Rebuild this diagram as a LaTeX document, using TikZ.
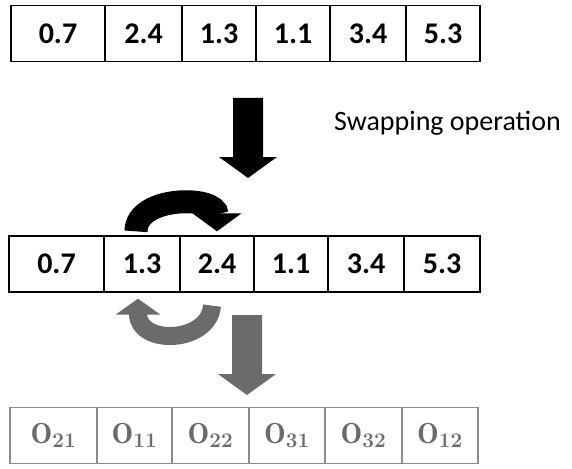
\documentclass[tikz,border=0pt]{standalone}
\usepackage{fontspec}
\newfontfamily\numfont{Carlito}
\usetikzlibrary{arrows.meta}

\tikzset{
  cell/.style={draw, line width=1.3pt, minimum height=56pt, inner sep=0pt,
    font=\numfont\bfseries\fontsize{30}{31}\selectfont},
  ocell/.style={cell, draw=black!45, text=black!58, font=\fontsize{29}{31}\selectfont\boldmath},
  swaparrow/.style={line width=23pt, -{Triangle[width=48pt,length=18pt]}},
  backarrow/.style={line width=18pt, black!58, -{Triangle[width=44pt,length=16pt]}},
  downarrow/.pic={
    \fill (-15,0) -- (15,0) -- (15,59) -- (29,59) -- (0,80) -- (-29,59) -- (-15,59) -- cycle;
  }
}

\begin{document}
\begin{tikzpicture}[x=1pt, y=-1pt]
  \useasboundingbox (0,0) rectangle (572,468);

  % chromosome before and after the swap
  \foreach \v/\l/\r [count=\i] in {0.7/11/105, 2.4/105/182, 1.3/182/256, 1.1/256/330, 3.4/330/406, 5.3/406/480}
    \node[cell, minimum width=\r-\l] (t\i) at ({(\l+\r)/2}, 33.5) {\v};
  \foreach \v/\l/\r [count=\i] in {0.7/9/104, 1.3/104/180, 2.4/180/254, 1.1/254/328, 3.4/328/404, 5.3/404/480}
    \node[cell, minimum width=\r-\l] (m\i) at ({(\l+\r)/2}, 264) {\v};
  \foreach \v/\l/\r [count=\i] in {21/10/97, 11/97/172, 22/172/249, 31/249/325, 32/325/402, 12/402/478}
    \node[ocell, minimum width=\r-\l] (o\i) at ({(\l+\r)/2}, 435.5) {$\mathrm{O}_{\v}$};

  \pic[color=black] at (248,98) {downarrow};
  \node[font=\numfont\fontsize{28}{30}\selectfont, anchor=base west, inner sep=0pt] (swap) at (334,130) {Swapping operation};

  \draw[swaparrow] ([xshift=-6pt,yshift=4pt]m2.north) .. controls +(0,-36) and +(0,-36) .. ([yshift=4pt]m3.north);

  \draw[backarrow] ([xshift=-5pt,yshift=-13pt]m3.south) .. controls +(-3,38) and +(0,47) .. ([xshift=-4pt,yshift=-6pt]m2.south);
  \pic[color=black!58] at (247,315) {downarrow};
\end{tikzpicture}
\end{document}
